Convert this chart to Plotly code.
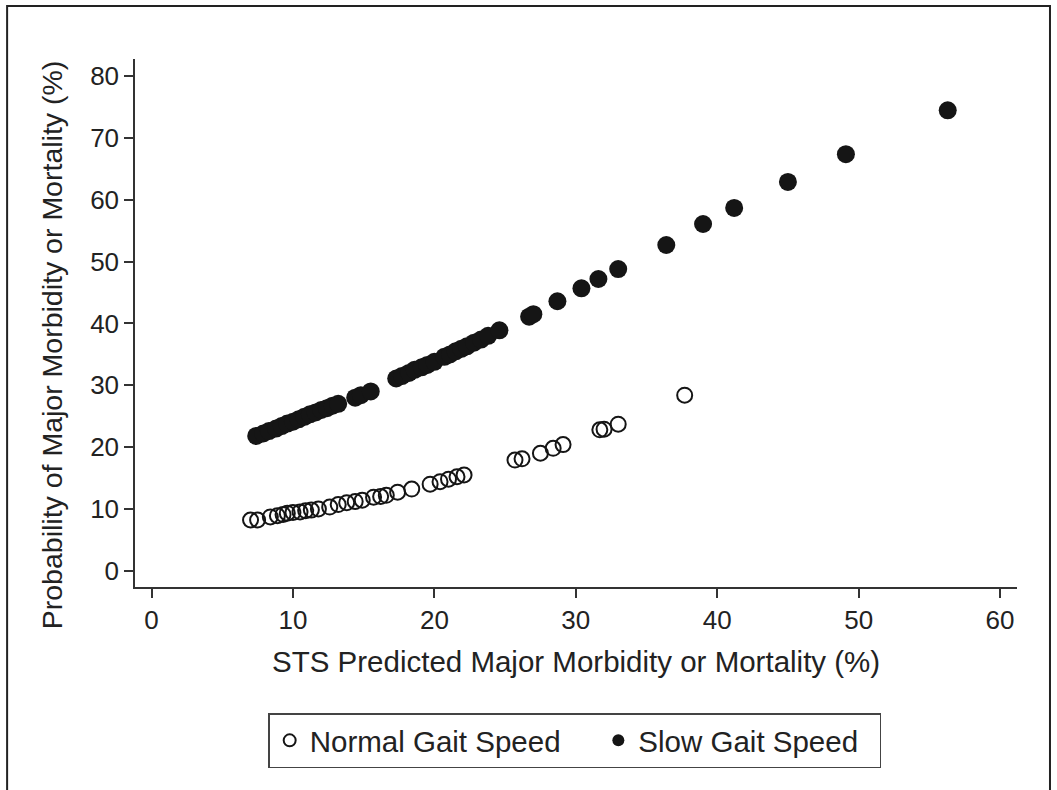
import plotly.graph_objects as go

# Normal gait speed (open circles)
normal_x = [7.0, 7.5, 8.4, 8.9, 9.3, 9.6, 10.0, 10.5, 10.9, 11.3, 11.8, 12.6, 13.2, 13.8, 14.4, 14.9,
            15.7, 16.2, 16.6, 17.4, 18.4, 19.7, 20.4, 21.0, 21.6, 22.1, 25.7, 26.2, 27.5, 28.4, 29.1,
            31.7, 32.0, 33.0, 37.7]
normal_y = [8.2, 8.2, 8.7, 8.9, 9.1, 9.3, 9.4, 9.5, 9.7, 9.8, 10.0, 10.3, 10.7, 11.0, 11.2, 11.4,
            11.9, 12.0, 12.2, 12.7, 13.2, 14.0, 14.4, 14.8, 15.2, 15.5, 17.9, 18.1, 19.0, 19.8, 20.4,
            22.8, 22.9, 23.7, 28.4]

# Slow gait speed (filled circles)
slow_x = [7.4, 7.9, 8.3, 8.8, 9.2, 9.6, 10.0, 10.4, 10.8, 11.2, 11.6, 12.0, 12.4, 12.8, 13.2,
          14.4, 14.8, 15.5, 17.3, 17.7, 18.2, 18.6, 19.1, 19.5, 20.0, 20.7, 21.1, 21.5, 21.9,
          22.3, 22.8, 23.3, 23.8, 24.6, 26.7, 27.0, 28.7, 30.4, 31.6, 33.0, 36.4, 39.0, 41.2,
          45.0, 49.1, 56.3]
slow_y = [21.8, 22.2, 22.6, 23.0, 23.4, 23.8, 24.1, 24.5, 24.9, 25.3, 25.6, 26.0, 26.3, 26.7, 27.0,
          28.0, 28.4, 29.0, 31.1, 31.5, 32.0, 32.5, 32.9, 33.3, 33.8, 34.6, 35.0, 35.5, 35.9,
          36.3, 36.9, 37.4, 38.0, 38.9, 41.1, 41.5, 43.6, 45.7, 47.2, 48.8, 52.7, 56.1, 58.7,
          62.9, 67.4, 74.5]

x_ticks = [0, 10, 20, 30, 40, 50, 60]
y_ticks = [0, 10, 20, 30, 40, 50, 60, 70, 80]

series_names = ["Normal Gait Speed", "Slow Gait Speed"]
x_title = "STS Predicted Major Morbidity or Mortality (%)"
y_title = "Probability of Major Morbidity or Mortality (%)"

FONT = "Liberation Sans, Arial, sans-serif"
INK = "#151515"
TXT = "#222"

fig = go.Figure()
fig.add_trace(go.Scatter(
    x=normal_x, y=normal_y, mode="markers", name=series_names[0] + "\u00a0" * 4,
    marker=dict(symbol="circle-open", size=15, color=INK, line=dict(width=2, color=INK)),
))
fig.add_trace(go.Scatter(
    x=slow_x, y=slow_y, mode="markers", name=series_names[1] + "\u00a0" * 2,
    marker=dict(symbol="circle", size=18, color=INK, line=dict(width=0)),
))

axis_common = dict(
    showline=True, linecolor="#333", linewidth=1.5,
    ticks="outside", ticklen=9, tickwidth=1.5, tickcolor="#333",
    showgrid=False, zeroline=False, mirror=False,
    tickfont=dict(family=FONT, size=26, color=TXT),
)

fig.update_layout(
    width=1057, height=790,
    margin=dict(l=135, r=40, t=59, b=203),
    paper_bgcolor="white", plot_bgcolor="white",
    font=dict(family=FONT, color=TXT),
    showlegend=True,
    legend=dict(
        orientation="h", x=0.151, xanchor="left", y=-0.239, yanchor="top",
        bordercolor="#444", borderwidth=1.5, bgcolor="white",
        font=dict(family=FONT, size=29.5, color=TXT),
        itemsizing="constant",
    ),
    xaxis=dict(range=[-1.17, 61.2], tickvals=x_ticks, **axis_common),
    yaxis=dict(range=[-2.64, 82.8], tickvals=y_ticks, **axis_common),
    annotations=[
        dict(text=x_title, xref="paper", yref="paper", x=0.5, y=-0.142,
             xanchor="center", yanchor="middle", showarrow=False,
             font=dict(family=FONT, size=29.5, color=TXT)),
        dict(text=y_title, xref="paper", yref="paper", x=-0.094, y=0.458,
             xanchor="center", yanchor="middle", textangle=-90, showarrow=False,
             font=dict(family=FONT, size=28.5, color=TXT)),
    ],
    shapes=[
        dict(type="rect", xref="paper", yref="paper",
             x0=-0.145, x1=1.0374, y0=-0.40, y1=1.1004,
             line=dict(color="#222", width=2), fillcolor="rgba(0,0,0,0)", layer="below"),
    ],
)

fig.write_html("out.html")
